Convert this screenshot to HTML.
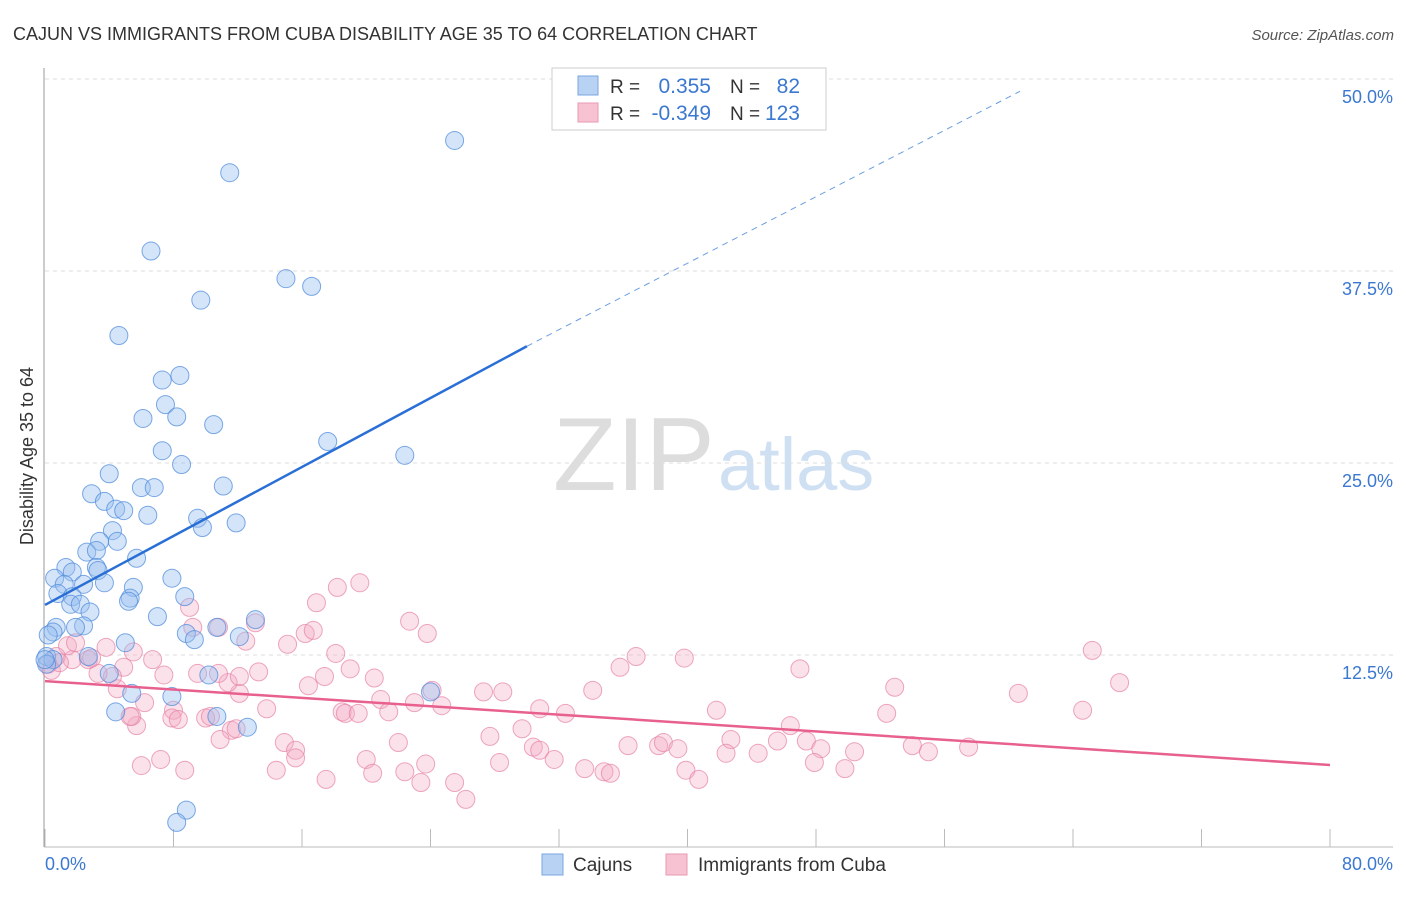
<!DOCTYPE html>
<html><head><meta charset="utf-8"><style>
body{margin:0;background:#fff;font-family:"Liberation Sans",sans-serif;}
svg text{font-family:"Liberation Sans",sans-serif;}
</style></head><body>
<svg id="chart" width="1406" height="892" viewBox="0 0 1406 892">
<text x="13" y="40" font-size="18" fill="#333">CAJUN VS IMMIGRANTS FROM CUBA DISABILITY AGE 35 TO 64 CORRELATION CHART</text>
<text x="1394" y="40" font-size="15" fill="#555" text-anchor="end" font-style="italic">Source: ZipAtlas.com</text>
<g>
<text x="553" y="490" font-size="104" fill="#ddd" font-family="Liberation Serif,serif">ZIP</text>
<text x="718" y="490" font-size="74" fill="#cfe0f3">atlas</text>
</g>
<g id="grid"></g>
<line x1="44" y1="68" x2="44" y2="847" stroke="#999"/>
<line x1="44" y1="847" x2="1393" y2="847" stroke="#bbb"/>
<g id="ticks"></g>
<text transform="translate(33,456) rotate(-90)" font-size="18" fill="#333" text-anchor="middle">Disability Age 35 to 64</text>
<text x="45" y="870" font-size="18" fill="#3b78d0">0.0%</text>
<text x="1393" y="870" font-size="18" fill="#3b78d0" text-anchor="end">80.0%</text>
<g id="pts"></g>
<g id="trends"></g>
<g>
<rect x="552" y="68" width="274" height="62" fill="#fff" stroke="#ccc"/>
<rect x="578" y="76" width="20" height="19" fill="#b8d2f3" stroke="#7aa6e0"/>
<rect x="578" y="103" width="20" height="19" fill="#f7c3d3" stroke="#e898b3"/>
<text x="610" y="93" font-size="19" fill="#333">R =</text>
<text x="711" y="93" font-size="21" fill="#3b78d0" text-anchor="end">0.355</text>
<text x="730" y="93" font-size="19" fill="#333">N =</text>
<text x="800" y="93" font-size="21" fill="#3b78d0" text-anchor="end">82</text>
<text x="610" y="120" font-size="19" fill="#333">R =</text>
<text x="711" y="120" font-size="21" fill="#3b78d0" text-anchor="end">-0.349</text>
<text x="730" y="120" font-size="19" fill="#333">N =</text>
<text x="800" y="120" font-size="21" fill="#3b78d0" text-anchor="end">123</text>
</g>
<g>
<rect x="542" y="854" width="21" height="21" fill="#b8d2f3" stroke="#7aa6e0"/>
<text x="573" y="871" font-size="19" fill="#333">Cajuns</text>
<rect x="666" y="854" width="21" height="21" fill="#f7c3d3" stroke="#e898b3"/>
<text x="698" y="871" font-size="19" fill="#333">Immigrants from Cuba</text>
</g>
</svg>
<script>
const yTicks=[12.5,25,37.5,50];
const yTickLabels=["12.5%","25.0%","37.5%","50.0%"];
const xTicks=[0,8,16,24,32,40,48,56,64,72,80];
const cajunX=[25.5,11.5,6.6,15.0,16.6,9.7,4.6,8.4,7.3,7.5,6.1,8.2,10.5,17.6,22.4,7.3,8.5,4.0,2.9,6.0,6.8,11.1,3.7,4.4,4.9,6.4,9.5,11.9,9.8,4.2,3.4,4.5,2.6,3.2,5.7,1.3,3.2,1.7,3.3,0.6,1.2,2.4,3.7,5.5,0.8,1.7,5.3,1.6,2.2,5.2,2.8,7.0,7.9,8.7,13.1,0.7,2.4,1.9,0.5,0.2,8.8,10.7,9.3,5.0,12.1,0.1,0.5,2.7,10.2,4.0,24.0,5.4,7.9,4.4,10.7,12.6,8.8,8.2,0.1,0.0];
const cajunY=[46.0,43.9,38.8,37.0,36.5,35.6,33.3,30.7,30.4,28.8,27.9,28.0,27.5,26.4,25.5,25.8,24.9,24.3,23.0,23.4,23.4,23.5,22.5,22.0,21.9,21.6,21.4,21.1,20.8,20.6,19.9,19.9,19.2,19.3,18.8,18.2,18.2,17.9,18.0,17.5,17.1,17.1,17.2,16.9,16.5,16.3,16.2,15.8,15.8,16.0,15.3,15.0,17.5,16.3,14.8,14.3,14.4,14.3,14.0,13.8,13.9,14.3,13.5,13.3,13.7,12.4,12.2,12.4,11.2,11.3,10.1,10.0,9.8,8.8,8.5,7.8,2.4,1.6,11.9,12.2];
const cubaX=[19.6,18.2,16.9,9.0,22.7,23.8,16.2,16.7,9.2,10.8,13.1,3.8,5.5,12.5,15.1,18.1,36.8,39.8,65.2,66.9,52.9,60.6,47.0,35.8,34.1,27.3,28.5,24.1,20.9,20.5,19.0,17.4,16.4,12.1,11.4,13.3,12.1,9.5,10.8,7.4,6.7,4.9,4.2,3.3,4.5,2.7,1.7,1.4,0.7,0.2,0.4,1.9,2.9,6.2,8.0,7.9,10.0,10.3,11.6,13.8,18.5,18.7,19.5,21.4,23.0,24.7,30.8,32.4,29.7,27.7,30.4,30.8,31.7,28.3,33.6,34.8,35.2,36.3,38.2,38.5,39.4,41.8,42.7,42.4,44.4,46.4,47.4,45.6,48.3,47.9,49.8,50.4,52.4,54.0,55.0,57.5,64.6,39.9,40.7,6.0,7.2,8.7,5.7,5.4,10.9,11.9,14.4,14.9,15.6,15.6,17.5,20.0,20.4,22.0,22.4,23.4,23.7,25.5,26.2,5.3,8.3,0.9];
const cubaY=[17.2,16.9,15.9,15.6,14.7,13.9,13.9,14.1,14.3,14.3,14.6,13.0,12.7,13.4,13.2,12.6,12.4,12.3,12.8,10.7,10.4,10.0,11.6,11.7,10.2,10.1,10.1,10.2,9.6,11.0,11.6,11.1,10.5,10.0,10.7,11.4,11.1,11.3,11.3,11.2,12.2,11.7,11.1,11.3,10.3,12.2,12.2,13.1,12.4,11.9,11.5,13.3,12.3,9.4,8.9,8.4,8.4,8.5,7.6,9.0,8.8,8.7,8.7,8.8,9.4,9.2,9.0,8.7,7.7,7.2,6.5,6.3,5.7,5.5,5.1,4.9,4.8,6.6,6.6,6.8,6.4,8.9,7.0,6.1,6.1,7.9,6.9,6.9,6.4,5.5,5.1,6.2,8.7,6.6,6.2,6.5,8.9,5.0,4.4,5.3,5.7,5.0,7.9,8.5,7.0,7.7,5.0,6.8,6.3,5.8,4.4,5.7,4.8,6.8,4.9,4.2,5.4,4.2,3.1,8.5,8.3,12.0];
const cajunTrendX=[0,30,60.7];
const cajunTrendY=[15.76,32.6,49.2];
const cubaTrendX=[0,80];
const cubaTrendY=[10.8,5.34];

const NS="http://www.w3.org/2000/svg";
function sx(v){return 45+v*(1285/80);}
function sy(v){return 847-v*(768/50);}
function mk(tag,attrs,parent){const e=document.createElementNS(NS,tag);for(const k in attrs)e.setAttribute(k,attrs[k]);parent.appendChild(e);return e;}
const grid=document.getElementById('grid'),ticks=document.getElementById('ticks'),pts=document.getElementById('pts'),tr=document.getElementById('trends');
yTicks.forEach((t,i)=>{
  const l=mk('line',{x1:45,x2:1393,y1:sy(t),y2:sy(t),stroke:'#ddd','stroke-dasharray':'4,4'},grid);
  
  
  const tx=mk('text',{x:1393,y:sy(t)+24,'font-size':18,fill:'#3b78d0','text-anchor':'end'},grid);
  tx.textContent=yTickLabels[i];
  
  
});
xTicks.forEach(t=>{
  const l=mk('line',{x1:sx(t),x2:sx(t),y1:829,y2:847,stroke:'#bbb'},ticks);
  
  
});
cubaX.forEach((x,i)=>{
  const c=mk('circle',{cx:sx(x),cy:sy(cubaY[i]),r:9,fill:'rgba(244,170,195,0.35)',stroke:'rgba(230,130,165,0.7)','stroke-width':1},pts);
  
  
});
cajunX.forEach((x,i)=>{
  const c=mk('circle',{cx:sx(x),cy:sy(cajunY[i]),r:9,fill:'rgba(150,190,240,0.4)',stroke:'rgba(80,140,220,0.75)','stroke-width':1},pts);
  
  
});
const b1=mk('line',{x1:sx(cajunTrendX[0]),y1:sy(cajunTrendY[0]),x2:sx(cajunTrendX[1]),y2:sy(cajunTrendY[1]),stroke:'#2a6fd6','stroke-width':2.5},tr);


const b2=mk('line',{x1:sx(cajunTrendX[1]),y1:sy(cajunTrendY[1]),x2:sx(cajunTrendX[2]),y2:sy(cajunTrendY[2]),stroke:'#6a9ee0','stroke-width':1,'stroke-dasharray':'6,5'},tr);


const p1=mk('line',{x1:sx(cubaTrendX[0]),y1:sy(cubaTrendY[0]),x2:sx(cubaTrendX[1]),y2:sy(cubaTrendY[1]),stroke:'#e8608e','stroke-width':2.5},tr);


</script>
</body></html>
